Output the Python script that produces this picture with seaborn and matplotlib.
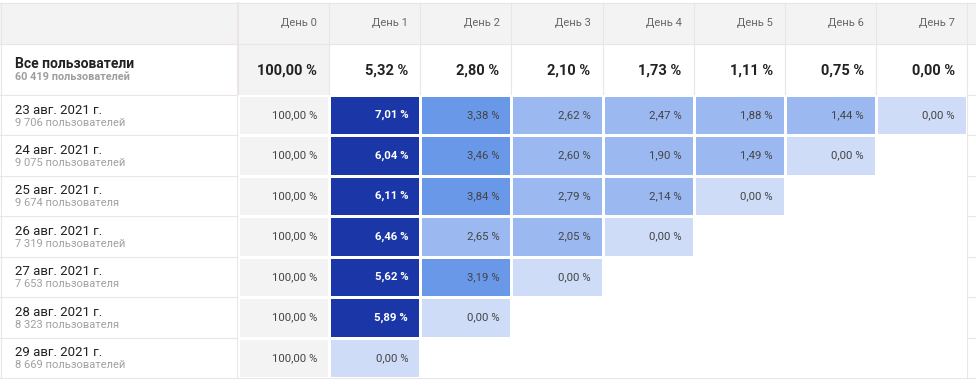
import numpy as np
import pandas as pd
import matplotlib
matplotlib.use("Agg")
import matplotlib.pyplot as plt
from matplotlib.colors import ListedColormap, BoundaryNorm
import seaborn as sns

# ---------------------------------------------------------------------------
# Data
# ---------------------------------------------------------------------------
days = ["День 0", "День 1", "День 2", "День 3", "День 4", "День 5", "День 6", "День 7"]

total_label = "Все пользователи"
total_users = "60 419 пользователей"
total_rates = [100.00, 5.32, 2.80, 2.10, 1.73, 1.11, 0.75, 0.00]

cohort_dates = ["23 авг. 2021 г.", "24 авг. 2021 г.", "25 авг. 2021 г.", "26 авг. 2021 г.",
                "27 авг. 2021 г.", "28 авг. 2021 г.", "29 авг. 2021 г."]
cohort_users = ["9 706 пользователей", "9 075 пользователей", "9 674 пользователя",
                "7 319 пользователей", "7 653 пользователя", "8 323 пользователя",
                "8 669 пользователей"]

nan = np.nan
retention = [
    [100.00, 7.01, 3.38, 2.62, 2.47, 1.88, 1.44, 0.00],
    [100.00, 6.04, 3.46, 2.60, 1.90, 1.49, 0.00, nan],
    [100.00, 6.11, 3.84, 2.79, 2.14, 0.00, nan, nan],
    [100.00, 6.46, 2.65, 2.05, 0.00, nan, nan, nan],
    [100.00, 5.62, 3.19, 0.00, nan, nan, nan, nan],
    [100.00, 5.89, 0.00, nan, nan, nan, nan, nan],
    [100.00, 0.00, nan, nan, nan, nan, nan, nan],
]

# colour buckets: 0 / low / mid / high / day-0
bucket_edges = [-1, 0.5, 3.0, 5.0, 50, 101]
bucket_colors = ["#cfdcf7", "#9bb9f0", "#6a98e8", "#1b36a6", "#f3f3f3"]

# ---------------------------------------------------------------------------
# Layout (pixels)
# ---------------------------------------------------------------------------
W, H = 976, 390
left_col = 238
right_edge = 967
head_top, head_bot = 3, 44
tot_bot = 95
grid_bot = 378
grid_color = "#ebe5e8"


def fmt_pct(v):
    return f"{v:.2f}".replace(".", ",") + " %"


plt.rcParams["font.family"] = ["Roboto", "DejaVu Sans"]

fig = plt.figure(figsize=(W / 100, H / 100), dpi=100)
fig.patch.set_facecolor("white")

# background axes in pixel coordinates
bg = fig.add_axes([0, 0, 1, 1])
bg.set_xlim(0, W)
bg.set_ylim(H, 0)
bg.axis("off")

col_w = (right_edge - left_col) / len(days)
col_edges = [left_col + i * col_w for i in range(len(days) + 1)]
row_h = (grid_bot - tot_bot) / len(cohort_dates)
row_edges = [tot_bot + i * row_h for i in range(len(cohort_dates) + 1)]

# header band
bg.add_patch(plt.Rectangle((0, head_top), W, head_bot - head_top,
                           facecolor="#f3f3f3", edgecolor="none", zorder=0))
# day-0 cell of the totals row
bg.add_patch(plt.Rectangle((col_edges[0], head_bot), col_w, tot_bot - head_bot,
                           facecolor="#f3f3f3", edgecolor="none", zorder=0))

# grid lines
for y in [head_top, head_bot, tot_bot] + row_edges[1:]:
    bg.plot([0, W], [y, y], color=grid_color, lw=0.8, zorder=1)
for x in col_edges:
    bg.plot([x, x], [head_top, grid_bot], color=grid_color, lw=0.8, zorder=1)
bg.plot([left_col, left_col], [head_top, grid_bot], color=grid_color, lw=1.4, zorder=1)
bg.plot([1, 1], [head_top, grid_bot], color=grid_color, lw=0.8, zorder=1)

# header text
for i, d in enumerate(days):
    bg.text(col_edges[i + 1] - 12, 23, d, ha="right", va="center",
            fontsize=8, color="#666666", zorder=3)

# totals row
bg.text(15, 64, total_label, ha="left", va="center", fontsize=10,
        fontweight="bold", color="#212121", zorder=3)
bg.text(15, 77, total_users, ha="left", va="center", fontsize=7.8,
        fontweight="bold", color="#9e9e9e", zorder=3)
for i, v in enumerate(total_rates):
    bg.text(col_edges[i + 1] - 12, 71, fmt_pct(v), ha="right", va="center",
            fontsize=10.5, fontweight="bold", color="#222222", zorder=3)

# cohort labels
for i, (d, u) in enumerate(zip(cohort_dates, cohort_users)):
    top = row_edges[i]
    bg.text(15, top + 15, d, ha="left", va="center", fontsize=9.5,
            color="#212121", zorder=3)
    bg.text(15, top + 27.5, u, ha="left", va="center", fontsize=8,
            color="#a0a0a0", zorder=3)

# ---------------------------------------------------------------------------
# Retention heatmap
# ---------------------------------------------------------------------------
df = pd.DataFrame(retention, index=cohort_dates, columns=days)

hm = fig.add_axes([left_col / W, (H - grid_bot) / H,
                   (right_edge - left_col) / W, (grid_bot - tot_bot) / H])
cmap = ListedColormap(bucket_colors)
norm = BoundaryNorm(bucket_edges, cmap.N)
sns.heatmap(df, ax=hm, cmap=cmap, norm=norm, cbar=False,
            linewidths=1.0, linecolor="white", annot=False)
hm.set_facecolor("none")
hm.set_xticks([])
hm.set_yticks([])
hm.set_xlabel("")
hm.set_ylabel("")

pad = 12 / col_w
for r, row in enumerate(retention):
    for c, v in enumerate(row):
        if np.isnan(v):
            continue
        dark = 5.0 <= v < 50
        hm.text(c + 1 - pad, r + 0.5, fmt_pct(v), ha="right", va="center",
                fontsize=8.2, color="white" if dark else "#444444",
                fontweight="bold" if dark else "normal")

fig.savefig("out.png", dpi=100, facecolor="white")
